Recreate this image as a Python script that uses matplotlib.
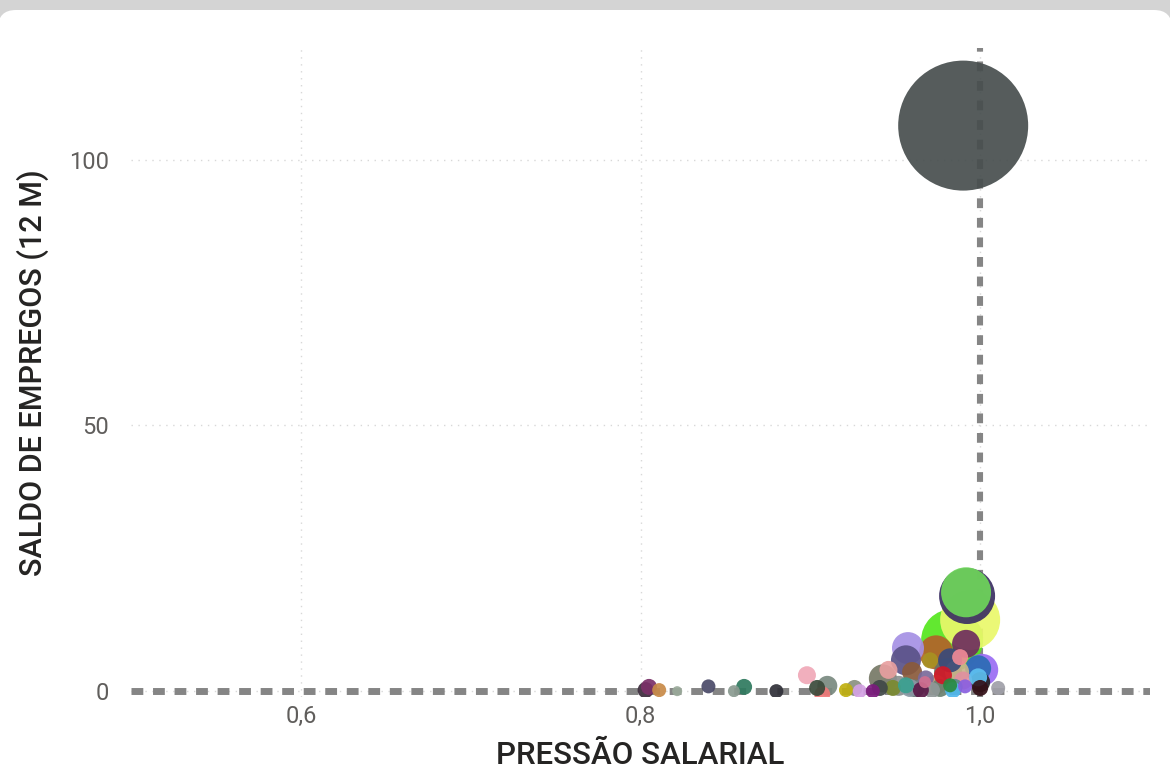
import matplotlib
matplotlib.use("Agg")
import matplotlib.pyplot as plt
import numpy as np
from matplotlib.patches import FancyBboxPatch
from matplotlib.transforms import IdentityTransform

# ---- data ----
pressao = [0.990, 0.9835, 0.9941, 0.9923, 0.9917, 0.9740, 0.9575, 1.0012, 0.9563, 0.9427,
           0.9811, 0.9917, 0.9988, 0.9823, 0.9864, 0.9599, 1.0000, 0.9705, 0.9882, 0.9988,
           0.9781, 0.9586, 0.9764, 0.9563, 0.9409, 0.9651, 0.9840, 0.9716, 1.0000, 0.9486,
           0.9368, 0.9291, 0.9823, 0.9911, 1.0106, 0.9675,
           0.805, 0.803, 0.811, 0.8216, 0.840, 0.861, 0.855, 0.880, 0.898, 0.904,
           0.910, 0.907, 0.921, 0.926,
           0.952, 0.962, 0.974, 0.990, 0.946, 0.968, 0.985]
saldo = [106.4, 9.6, 13.4, 17.9, 18.6, 7.3, 8.1, 4.0, 5.8, 2.4,
         3.6, 8.9, 4.3, 5.8, 3.6, 3.6, 1.7, 5.8, 6.4, 2.6,
         3.0, 0.6, 0.6, 1.1, 0.6, 0.2, 0.2, 0.2, 0.6, 0.6,
         0.0, 0.0, 1.1, 0.9, 0.6, 1.7,
         0.8, 0.2, 0.2, 0.0, 0.9, 0.8, 0.0, 0.0, 3.0, 0.6,
         1.0, -0.6, 0.2, 0.6,
         1.0, 0.5, 1.2, 2.0, 4.0, 2.4, 0.8]
porte = [4225, 961, 900, 784, 625, 289, 256, 256, 225, 196,
         196, 196, 169, 144, 144, 100, 100, 64, 64, 81,
         81, 81, 81, 64, 64, 64, 64, 64, 64, 64,
         49, 49, 49, 49, 49, 36,
         64, 64, 49, 25, 49, 64, 36, 49, 81, 64,
         100, 64, 49, 64,
         100, 81, 100, 81, 81, 64, 64]
cores = ['#474e4e', '#55e61e', '#eaf86a', '#3b2f63', '#6ed65a', '#b2622a', '#a590e4', '#9a6cf4',
         '#5a5288', '#767866', '#6c7262', '#6e2d5e', '#2b6cb4', '#3a4a7a', '#c8b48a', '#8a5a3a',
         '#242424', '#a89222', '#f08a96', '#5ec0f0', '#d01828', '#8a98a4', '#6a8070', '#3aa090',
         '#404848', '#5a1a48', '#52b8ee', '#909898', '#341018', '#7a8a30', '#7c1a7e', '#d4a2e4',
         '#2a8a40', '#8a60e0', '#a0a0a8', '#d07090',
         '#7a3068', '#3a2a3a', '#c88a48', '#9aaa9a', '#4a4a68', '#2e7a5e', '#8a9a90', '#303038',
         '#f0a8b8', '#3a4a3a', '#7a8a80', '#f07878', '#c0b010', '#8a9080',
         '#8a9090', '#6a7a7a', '#c09a70', '#e090a0', '#e8a0a0', '#7a6a9a', '#5a8a8a']

x_ticks = [0.6, 0.8, 1.0]
x_tick_labels = ['0,6', '0,8', '1,0']
y_ticks = [0, 50, 100]
y_tick_labels = ['0', '50', '100']
ref_x = 1.0
ref_y = 0

# ---- figure ----
W, H = 1170, 779
fig = plt.figure(figsize=(W / 100, H / 100), dpi=100, facecolor='#d4d4d4')
card = FancyBboxPatch((-2, -30), W + 4, H - 10 + 30,
                      boxstyle='round,pad=0,rounding_size=18',
                      transform=IdentityTransform(), facecolor='white',
                      edgecolor='none', zorder=-10)
fig.patches.append(card)

ax = fig.add_axes([131 / W, (H - 697) / H, (1150 - 131) / W, (697 - 48) / H])
ax.set_zorder(1)
ax.set_facecolor('none')
ax.set_xlim(0.5, 1.1)
ax.set_ylim(-1.1, 121)

for s in ax.spines.values():
    s.set_visible(False)

# grid
for xv in x_ticks:
    ax.axvline(xv, color='#d8d8d8', lw=1.0, ls=(0, (1, 4)), zorder=1)
for yv in y_ticks:
    ax.axhline(yv, color='#d8d8d8', lw=1.0, ls=(0, (1, 4)), zorder=1)

# reference lines
ax.axvline(ref_x, color='#858585', lw=4.4, ls=(0, (1.6, 1.6)), zorder=2)
ax.axhline(ref_y, color='#858585', lw=5, ls=(0, (1.7, 1.4)), zorder=2)

# bubbles (larger drawn first)
order = np.argsort(porte, kind='stable')[::-1]
px_ = np.array(pressao)[order]
sy_ = np.array(saldo)[order]
sz_ = np.array(porte, dtype=float)[order] * 2.0736
cl_ = [cores[i] for i in order]
ax.scatter(px_, sy_, s=sz_, c=cl_, alpha=0.92, edgecolors='none', zorder=3)

ax.set_xticks(x_ticks)
ax.set_xticklabels(x_tick_labels)
ax.set_yticks(y_ticks)
ax.set_yticklabels(y_tick_labels)
ax.tick_params(axis='both', length=0, labelsize=17, labelcolor='#605e5c')
ax.tick_params(axis='y', pad=16)
ax.tick_params(axis='x', pad=6)
for lab in ax.get_xticklabels() + ax.get_yticklabels():
    lab.set_fontfamily('Roboto')

ax.set_xlabel('PRESSÃO SALARIAL', fontsize=22.5, color='#252423', family='Roboto',
              fontweight='medium')
ax.set_ylabel('SALDO DE EMPREGOS (12 M)', fontsize=22, color='#252423', family='Roboto',
              fontweight='medium')
ax.xaxis.set_label_coords(0.5, -0.068)
ax.yaxis.set_label_coords(-0.08, 0.5)

fig.savefig('out.png', dpi=100, facecolor=fig.get_facecolor())
